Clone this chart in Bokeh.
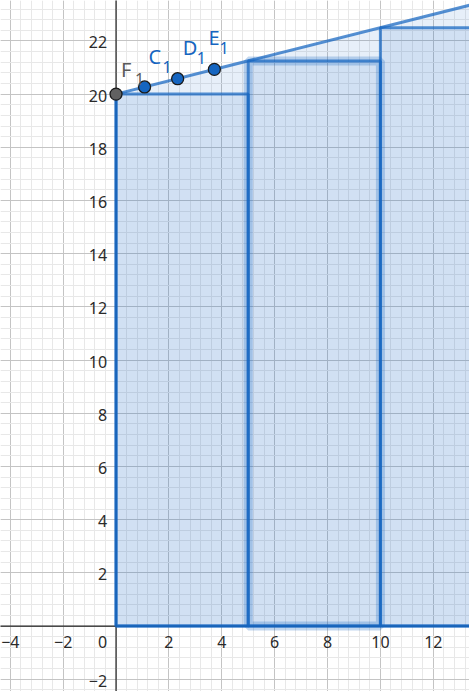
from bokeh.plotting import figure
from bokeh.models import Range1d, Grid, SingleIntervalTicker
from bokeh.core.properties import value
from bokeh.embed import file_html
from bokeh.resources import INLINE

# ---- data ----
x_tick_values = [-4, -2, 2, 4, 6, 8, 10, 12]
x_tick_labels = ["\u22124", "\u22122", "2", "4", "6", "8", "10", "12"]
y_tick_values = [-2, 2, 4, 6, 8, 10, 12, 14, 16, 18, 20, 22]
y_tick_labels = ["\u22122", "2", "4", "6", "8", "10", "12", "14", "16", "18", "20", "22"]

curve_x = [0, 15]
curve_y = [20, 23.75]          # f(x) = 20 + 0.25 x

rect_left = [0, 5, 10]
rect_right = [5, 10, 15]
rect_top = [20, 21.25, 22.5]
rect_bottom = [0, 0, 0]
selected_rect = 1

point_names = ["F", "C", "D", "E"]
point_subs = ["1", "1", "1", "1"]
point_x = [0, 1.08, 2.33, 3.72]
point_y = [20, 20.27, 20.58, 20.93]

# ---- styles ----
BLUE = "#1565c0"
FONT = value("Noto Sans")
label_colors = ["#5a5a5a", BLUE, BLUE, BLUE]
point_fill = ["#616161", BLUE, BLUE, BLUE]
letter_offsets = [(5, -25), (4, -30), (5, -31), (-6, -32)]
sub_offsets = [(19, -15), (18, -20), (19, -21), (5, -21)]

p = figure(width=469, height=691, output_backend="svg", toolbar_location=None,
           x_range=Range1d(-4.37, 13.37), y_range=Range1d(-2.46, 23.52),
           x_axis_type=None, y_axis_type=None, min_border=0,
           outline_line_color=None, background_fill_color="white")
p.grid.visible = False

for dim in (0, 1):
    g = Grid(dimension=dim, ticker=SingleIntervalTicker(interval=2, num_minor_ticks=5),
             grid_line_color="#c4c4c4", grid_line_width=1,
             minor_grid_line_color="#e8e8e8", minor_grid_line_width=1)
    p.add_layout(g)

# axes (drawn under the objects)
p.segment(x0=[-100, 0], y0=[0, -100], x1=[100, 0], y1=[0, 100],
          line_color="#222222", line_width=1.2)

# region under f
area_x = [curve_x[0], curve_x[0], curve_x[1], curve_x[1]]
area_y = [0, curve_y[0], curve_y[1], 0]
p.patch(area_x, area_y, fill_color=BLUE, fill_alpha=0.1,
        line_color=BLUE, line_alpha=0.72, line_width=3)

# selection halo of the middle rectangle
p.quad(left=[rect_left[selected_rect]], right=[rect_right[selected_rect]],
       top=[rect_top[selected_rect]], bottom=[rect_bottom[selected_rect]],
       fill_alpha=0, line_color=BLUE, line_alpha=0.25, line_width=9)

# rectangles
p.quad(left=rect_left, right=rect_right, top=rect_top, bottom=rect_bottom,
       fill_color=BLUE, fill_alpha=0.1, line_color=BLUE, line_alpha=0.72,
       line_width=3)

# tick labels
p.text(x=x_tick_values, y=[0] * len(x_tick_values), text=x_tick_labels,
       text_font=FONT, text_font_size="16px", text_color="#2a2a2a",
       text_align="center", text_baseline="middle", y_offset=15.5)
p.text(x=[0], y=[0], text=["0"], text_font=FONT, text_font_size="16px",
       text_color="#2a2a2a", text_align="right", text_baseline="middle",
       x_offset=-9, y_offset=15.5)
p.text(x=[0] * len(y_tick_values), y=y_tick_values, text=y_tick_labels,
       text_font=FONT, text_font_size="16px", text_color="#2a2a2a",
       text_align="right", text_baseline="middle", x_offset=-9, y_offset=1.5)

# points
p.scatter(x=point_x, y=point_y, size=12, fill_color=point_fill,
          line_color="#1a1a1a", line_width=1.3)

# point labels
for i in range(len(point_names)):
    p.text(x=[point_x[i]], y=[point_y[i]], text=[point_names[i]],
           text_font=FONT, text_font_size="20px", text_color=label_colors[i],
           text_align="left", text_baseline="alphabetic",
           x_offset=letter_offsets[i][0], y_offset=letter_offsets[i][1])
    p.text(x=[point_x[i]], y=[point_y[i]], text=[point_subs[i]],
           text_font=FONT, text_font_size="16px", text_color=label_colors[i],
           text_align="left", text_baseline="alphabetic",
           x_offset=sub_offsets[i][0], y_offset=sub_offsets[i][1])

open("out.html", "w").write(file_html(p, INLINE))
